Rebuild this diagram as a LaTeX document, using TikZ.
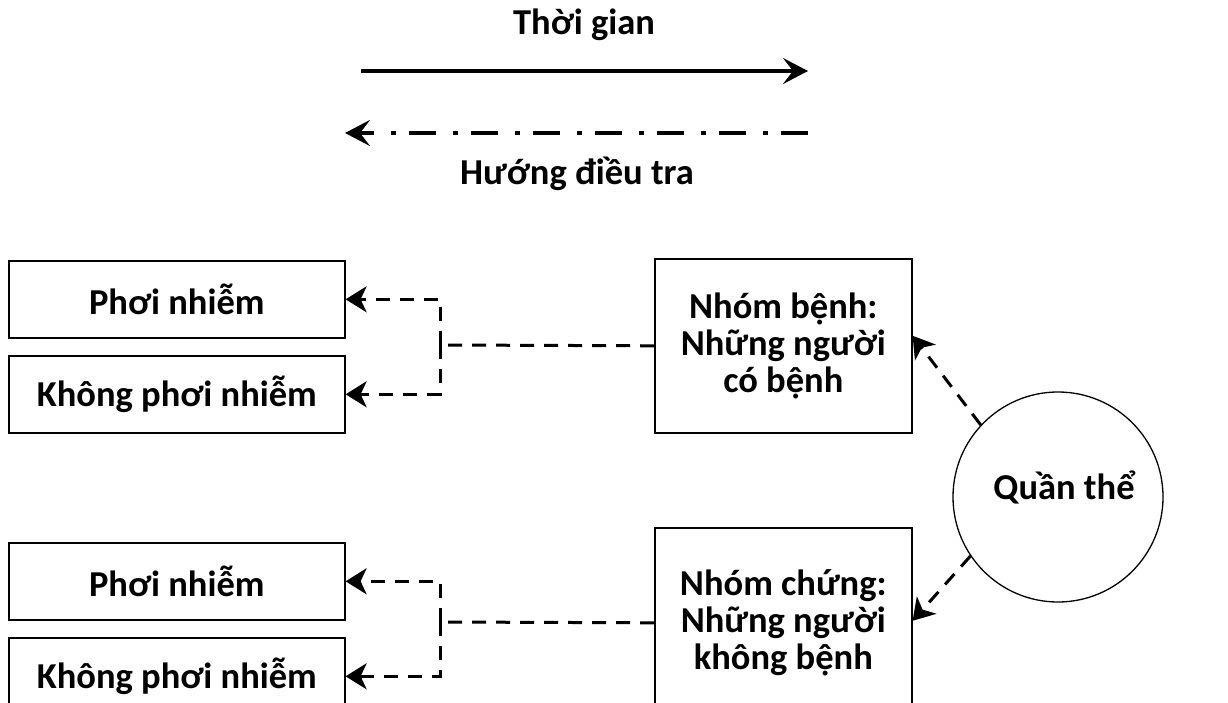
\documentclass[tikz,border=0pt]{standalone}
\usepackage{fontspec}
\setmainfont{Carlito}
\usetikzlibrary{arrows.meta}
\begin{document}
\begin{tikzpicture}[x=1pt,y=-1pt,
  txt/.style={font=\fontsize{36.5}{37}\selectfont\bfseries, align=center},
  box/.style={txt, draw, line width=1.6pt, inner sep=0pt, anchor=north west},
  leftbox/.style={box, minimum width=336pt, minimum height=77pt},
  groupbox/.style={box, minimum width=257pt},
  bigtip/.style={-{Stealth[length=25pt,width=26pt,inset=10pt]}},
  smalltip/.style={-{Stealth[length=21pt,width=26pt,inset=6pt]}},
  conn/.style={line width=3pt, dash pattern=on 14pt off 10pt},
  connarrow/.style={conn, smalltip}]
\useasboundingbox (0,0) rectangle (1228,703);
\clip (0,0) rectangle (1228,703);

% time and investigation direction
\node[txt, anchor=base] (tg) at (584,35) {Thời gian};
\coordinate (t1) at (361,71);
\coordinate (t2) at (808,71);
\draw[line width=3.5pt, bigtip] (t1) -- (t2);
\coordinate (d1) at (808,133);
\coordinate (d2) at (345,133);
\draw[line width=3.5pt, dash pattern=on 27pt off 13pt on 5pt off 17pt, bigtip] (d1) -- (d2);
\node[txt, anchor=base] (hd) at (577,185) {Hướng điều tra};

% case group
\node[leftbox] (p1) at (8,260) {Phơi nhiễm};
\node[leftbox] (k1) at (8,355) {Không phơi nhiễm};
\node[groupbox, minimum height=174pt] (nb) at (654,258) {Nhóm bệnh:\\Những người\\có bệnh};
\coordinate (j1) at (440,345);
\draw[conn] (nb.west) -- (j1);
\draw[connarrow] (j1) |- (p1.east);
\draw[connarrow] (j1) |- (k1.east);

% control group
\node[leftbox] (p2) at (8,542) {Phơi nhiễm};
\node[leftbox] (k2) at (8,637) {Không phơi nhiễm};
\node[groupbox, minimum height=190pt] (nc) at (654,527) {Nhóm chứng:\\Những người\\không bệnh};
\coordinate (j2) at (440,622);
\draw[conn] (nc.west) -- (j2);
\draw[connarrow] (j2) |- (p2.east);
\draw[connarrow] (j2) |- (k2.east);

% population
\node[circle, draw, line width=1.3pt, minimum size=210pt, inner sep=0pt] (qt) at (1058,497) {};
\node[txt] (qtl) at (1064,487) {Quần thể};
\draw[connarrow] (qt.137) -- ([yshift=10pt]nb.east);
\draw[connarrow] (qt.214) -- ([yshift=2pt]nc.east);
\end{tikzpicture}
\end{document}
